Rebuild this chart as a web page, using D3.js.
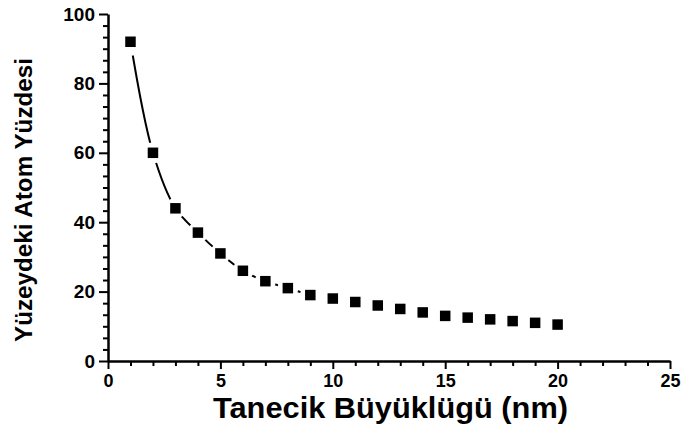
<!DOCTYPE html>
<html>
<head>
<meta charset="utf-8">
<script src="https://cdn.jsdelivr.net/npm/d3@7"></script>
<style>
  html, body { margin: 0; padding: 0; background: #fff; }
  svg { display: block; font-family: "Liberation Sans", Arial, sans-serif; }
</style>
</head>
<body>
<svg id="chart" width="682" height="430"></svg>
<script>
// Particle size (nm) and share of atoms on the surface (%)
const sizes = [1, 2, 3, 4, 5, 6, 7, 8, 9, 10, 11, 12, 13, 14, 15, 16, 17, 18, 19, 20];
const surfacePercent = [92, 60, 44, 37, 31, 26, 23, 21, 19, 18, 17, 16, 15, 14, 13, 12.5, 12, 11.5, 11, 10.5];
// The guide curve runs through the first nine points
const curveCount = 9;

const xTicks = [0, 5, 10, 15, 20, 25];
const yTicks = [0, 20, 40, 60, 80, 100];
const xTitle = "Tanecik Büyüklügü (nm)";
const yTitle = "Yüzeydeki Atom Yüzdesi";

const svg = d3.select("#chart");
const plotLeft = 108, plotRight = 670, plotTop = 14, plotBottom = 361;

const x = d3.scaleLinear().domain([0, 25]).range([plotLeft, plotRight]);
const y = d3.scaleLinear().domain([0, 100]).range([plotBottom, plotTop]);

const points = sizes.map((s, i) => ({ s, v: surfacePercent[i] }));

// Mask that leaves a gap in the curve around every marker
const defs = svg.append("defs");
const mask = defs.append("mask").attr("id", "gaps").attr("maskUnits", "userSpaceOnUse")
  .attr("x", 0).attr("y", 0).attr("width", 682).attr("height", 430);
mask.append("rect").attr("x", 0).attr("y", 0).attr("width", 682).attr("height", 430).attr("fill", "#fff");
mask.selectAll("circle").data(points).join("circle")
  .attr("cx", d => x(d.s)).attr("cy", d => y(d.v))
  .attr("r", (d, i) => i === 0 ? 14 : 10.5)
  .attr("fill", "#000");

const line = d3.line().x(d => x(d.s)).y(d => y(d.v)).curve(d3.curveCatmullRom.alpha(0.5));
svg.append("path")
  .datum(points.slice(0, curveCount))
  .attr("d", line)
  .attr("fill", "none")
  .attr("stroke", "#000")
  .attr("stroke-width", 2)
  .attr("mask", "url(#gaps)");

// Square markers
const ms = 10.5;
svg.append("g").selectAll("rect").data(points).join("rect")
  .attr("x", d => x(d.s) - ms / 2)
  .attr("y", d => y(d.v) - ms / 2)
  .attr("width", ms).attr("height", ms)
  .attr("fill", "#000");

// Axes
const xMinor = d3.range(0, 25.001, 1).filter(v => !xTicks.includes(v));
const yMinor = d3.range(1, 30).map(k => k * 20 / 6).filter(v => Math.abs(v / 20 - Math.round(v / 20)) > 1e-6 && v < 100);

function styleAxis(g) {
  g.select(".domain").attr("stroke", "#000").attr("stroke-width", 2.5);
  g.selectAll(".tick line").attr("stroke", "#000").attr("stroke-width", 2);
}

const gxMinor = svg.append("g").attr("transform", `translate(0,${plotBottom})`)
  .call(d3.axisBottom(x).tickValues(xMinor).tickSize(5).tickSizeOuter(0).tickFormat(""));
gxMinor.select(".domain").remove();
gxMinor.selectAll(".tick line").attr("stroke", "#000").attr("stroke-width", 2);

const gyMinor = svg.append("g").attr("transform", `translate(${plotLeft},0)`)
  .call(d3.axisLeft(y).tickValues(yMinor).tickSize(5).tickSizeOuter(0).tickFormat(""));
gyMinor.select(".domain").remove();
gyMinor.selectAll(".tick line").attr("stroke", "#000").attr("stroke-width", 2);

const gx = svg.append("g").attr("transform", `translate(0,${plotBottom})`)
  .call(d3.axisBottom(x).tickValues(xTicks).tickSize(8).tickSizeOuter(0).tickPadding(5));
styleAxis(gx);
gx.selectAll(".tick text")
  .attr("font-size", 18).attr("font-weight", "bold").attr("fill", "#000")
  .attr("font-family", "'Liberation Sans', Arial, sans-serif");

const gy = svg.append("g").attr("transform", `translate(${plotLeft},0)`)
  .call(d3.axisLeft(y).tickValues(yTicks).tickSize(9).tickSizeOuter(0).tickPadding(4));
styleAxis(gy);
gy.selectAll(".tick text")
  .attr("font-size", 19).attr("font-weight", "bold").attr("fill", "#000")
  .attr("font-family", "'Liberation Sans', Arial, sans-serif");

// Axis titles
svg.append("text")
  .attr("x", (213 + 568) / 2).attr("y", 418)
  .attr("text-anchor", "middle")
  .attr("font-size", 29).attr("font-weight", "bold")
  .attr("textLength", 355).attr("lengthAdjust", "spacingAndGlyphs")
  .text(xTitle);

svg.append("text")
  .attr("transform", "translate(32,200) rotate(-90)")
  .attr("text-anchor", "middle")
  .attr("font-size", 24).attr("font-weight", "bold")
  .attr("textLength", 284).attr("lengthAdjust", "spacingAndGlyphs")
  .text(yTitle);
</script>
</body>
</html>
